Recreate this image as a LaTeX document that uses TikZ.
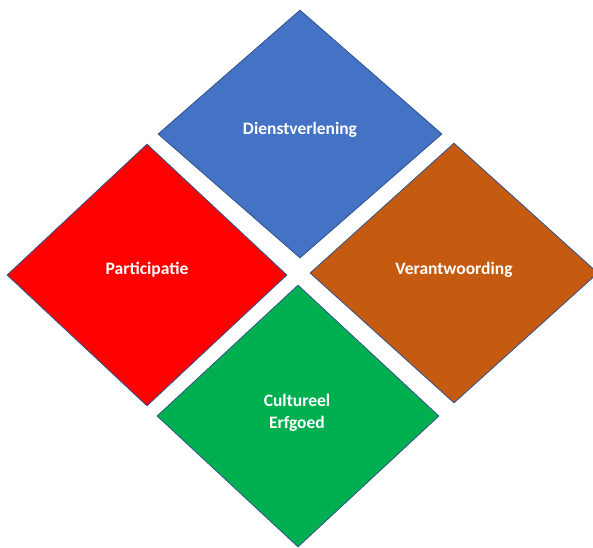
\documentclass[tikz,border=0pt]{standalone}
\usepackage{fontspec}
\setmainfont{Carlito}
\usetikzlibrary{shapes.geometric}
\definecolor{blauw}{HTML}{4472C4}
\definecolor{rood}{HTML}{FF0000}
\definecolor{oranje}{HTML}{C55A11}
\definecolor{groen}{HTML}{00B050}
\definecolor{rand}{HTML}{2F528F}
\newcommand{\vlakfont}{\fontsize{17.5}{22}\selectfont\bfseries}

\begin{document}
\begin{tikzpicture}[x=1pt,y=-1pt,
    vlak/.style={draw=rand, line width=.8pt, diamond, inner sep=0pt, aspect=1.1},
    tekst/.style={text=white, font=\vlakfont, align=center}]
        \useasboundingbox (0,0) rectangle (593,547);
        \node (dienst) at (300,134) [vlak, fill=blauw, minimum width=284pt, minimum height=248pt] {};
        \node (partic) at (147,275) [vlak, fill=rood, minimum width=280pt, minimum height=262pt] {};
        \node (verant) at (454,273) [vlak, fill=oranje, minimum width=288pt, minimum height=260pt] {};
        \node (cultuur) at (298,416) [vlak, fill=groen, minimum width=282pt, minimum height=262pt] {};

        \node (dienstlabel) at (300,130) [tekst] {Dienstverlening};
        \node (particlabel) at (147,270) [tekst] {Participatie};
        \node (verantlabel) at (454,270) [tekst] {Verantwoording};
        \node (cultuurlabel) at (297,412.5) [tekst] {Cultureel\\Erfgoed};
\end{tikzpicture}
\end{document}
